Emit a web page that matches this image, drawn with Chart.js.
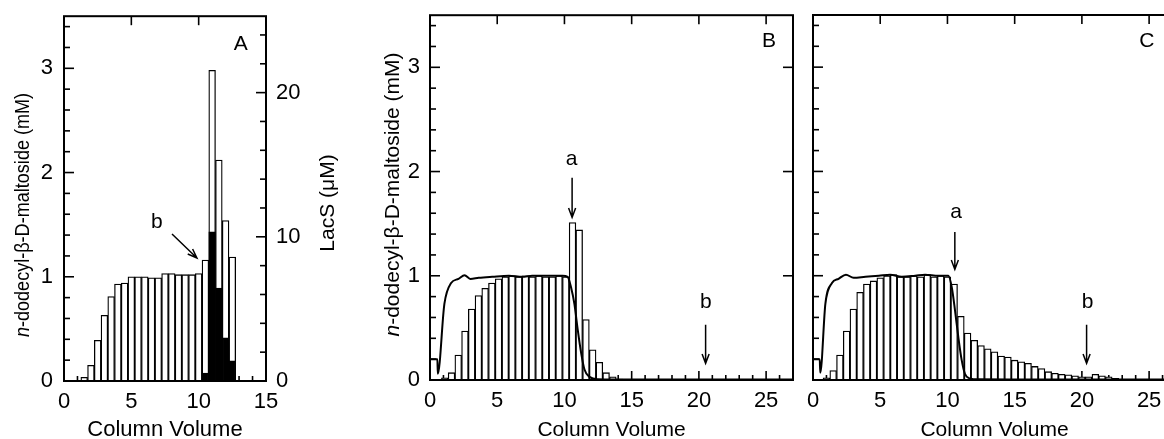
<!DOCTYPE html>
<html>
<head>
<meta charset="utf-8">
<script src="https://cdn.jsdelivr.net/npm/chart.js@4"></script>
<style>
  html, body { margin: 0; padding: 0; background: #fff; overflow: hidden; width: 1164px; height: 439px; }
  canvas { position: absolute; top: 0; }
  #chartA { left: 0; }
  #chartB { left: 360px; }
  #chartC { left: 800px; }
</style>
</head>
<body>
<canvas id="chartA" width="360" height="439"></canvas>
<canvas id="chartB" width="440" height="439"></canvas>
<canvas id="chartC" width="390" height="439"></canvas>
<script>
// ---- panel A: detergent (mM, white bars) and LacS (uM, black bars)
const aVolume = [1.5, 2, 2.5, 3, 3.5, 4, 4.5, 5, 5.5, 6, 6.5, 7, 7.5, 8, 8.5, 9, 9.5, 10, 10.5, 11, 11.5, 12, 12.5];
const aDetergent = [0.035, 0.15, 0.39, 0.63, 0.81, 0.93, 0.94, 1.0, 1.0, 1.0, 0.99, 0.99, 1.03, 1.03, 1.02, 1.02, 1.02, 1.03, 1.16, 2.98, 2.12, 1.54, 1.19];
const aLacSVolume = [10.5, 11, 11.5, 12, 12.5];
const aLacS = [0.55, 10.35, 6.45, 3.0, 1.4];

// ---- panel B
const bVolume = [1.1, 1.6, 2.1, 2.6, 3.1, 3.6, 4.1, 4.6, 5.1, 5.6, 6.1, 6.6, 7.1, 7.6, 8.1, 8.6, 9.1, 9.6, 10.1, 10.6, 11.1, 11.6, 12.1, 12.6, 13.1, 13.6, 14.1];
const bDetergent = [0.02, 0.07, 0.24, 0.47, 0.68, 0.81, 0.88, 0.93, 0.97, 0.99, 1.0, 0.99, 1.0, 0.99, 1.0, 0.99, 0.99, 1.0, 0.99, 1.51, 1.44, 0.58, 0.29, 0.17, 0.07, 0.03, 0.01];
const bTraceVolume = [0, 0.55, 0.58, 1.07, 1.57, 2.12, 2.57, 3.0, 3.62, 4.62, 5.87, 6.87, 7.6, 8.86, 9.86, 10.24, 10.49, 10.74, 10.99, 11.24, 11.49, 11.86, 12.5, 15, 20, 27];
const bTrace = [0.2, 0.2, 0.06, 0.73, 0.93, 0.97, 1.005, 0.97, 0.98, 0.99, 1.0, 0.99, 1.0, 1.0, 1.0, 0.99, 0.89, 0.73, 0.48, 0.26, 0.10, 0.03, 0.008, 0.005, 0.005, 0.005];

// ---- panel C
const cVolume = [1, 1.5, 2, 2.5, 3, 3.5, 4, 4.5, 5, 5.5, 6, 6.5, 7, 7.5, 8, 8.5, 9, 9.5, 10, 10.5, 11, 11.5, 12, 12.5, 13, 13.5, 14, 14.5, 15, 15.5, 16, 16.5, 17, 17.5, 18, 18.5, 19, 19.5, 20, 20.5, 21, 21.5, 22, 22.5];
const cDetergent = [0.02, 0.09, 0.24, 0.47, 0.68, 0.84, 0.92, 0.95, 0.98, 1.0, 1.01, 0.99, 0.99, 1.0, 0.99, 1.01, 0.99, 1.0, 0.99, 0.92, 0.61, 0.45, 0.38, 0.33, 0.30, 0.27, 0.23, 0.22, 0.19, 0.175, 0.16, 0.13, 0.11, 0.08, 0.065, 0.055, 0.05, 0.04, 0.03, 0.03, 0.055, 0.04, 0.03, 0.015];
const cTraceVolume = [0, 0.5, 0.54, 0.92, 1.41, 1.9, 2.45, 3.02, 3.9, 4.9, 5.74, 6.6, 7.6, 8.34, 9.33, 10.07, 10.32, 10.56, 10.81, 11.06, 11.3, 11.66, 12.3, 15, 20, 27];
const cTrace = [0.2, 0.2, 0.07, 0.73, 0.93, 0.97, 1.01, 0.98, 0.99, 1.0, 1.01, 0.99, 1.0, 1.01, 1.0, 1.0, 0.89, 0.67, 0.41, 0.19, 0.06, 0.016, 0.006, 0.005, 0.005, 0.005];

// ---- ticks and texts
const xTicksA = [0, 5, 10, 15];
const xTicksBC = [0, 5, 10, 15, 20, 25];
const yTicks = [0, 1, 2, 3];
const y2TicksA = [0, 10, 20];
const xTitle = 'Column Volume';
const yTitle = [['n', 'italic'], ['-dodecyl-β-D-maltoside (mM)', 'normal']];
const y2Title = [['LacS (μM)', 'normal']];

const FONT = '"Liberation Sans", Arial, Helvetica, sans-serif';

function pts(xs, ys) { return xs.map((x, i) => ({ x: x, y: ys[i] })); }
function steps(from, to, step, skip) {
  const out = [];
  for (let v = from; v <= to + 1e-9; v += step) {
    const r = Math.round(v * 100) / 100;
    if (!skip || Math.abs(r / skip - Math.round(r / skip)) > 1e-6) out.push(r);
  }
  return out;
}

function drawVertical(ctx, parts, cx, cy, size, squeeze) {
  ctx.save();
  ctx.translate(cx, cy);
  ctx.rotate(-Math.PI / 2);
  ctx.scale(squeeze || 1, 1);
  ctx.fillStyle = '#000';
  ctx.textBaseline = 'middle';
  ctx.textAlign = 'left';
  const widths = parts.map(p => { ctx.font = p[1] + ' ' + size + 'px ' + FONT; return ctx.measureText(p[0]).width; });
  let x = -widths.reduce((s, w) => s + w, 0) / 2;
  parts.forEach((p, i) => { ctx.font = p[1] + ' ' + size + 'px ' + FONT; ctx.fillText(p[0], x, 0); x += widths[i]; });
  ctx.restore();
}

function arrow(ctx, x1, y1, x2, y2) {
  const ang = Math.atan2(y2 - y1, x2 - x1), h = 10, w = 0.36;
  ctx.beginPath();
  ctx.moveTo(x1, y1); ctx.lineTo(x2, y2);
  ctx.moveTo(x2 - h * Math.cos(ang - w), y2 - h * Math.sin(ang - w));
  ctx.lineTo(x2, y2);
  ctx.lineTo(x2 - h * Math.cos(ang + w), y2 - h * Math.sin(ang + w));
  ctx.stroke();
}

// inward tick marks, box frame, panel letters, arrows and y titles
const frame = {
  id: 'frame',
  beforeDatasetsDraw(chart, args, o) {
    const ctx = chart.ctx, a = chart.chartArea;
    ctx.save();
    ctx.strokeStyle = '#000';
    ctx.lineWidth = 1.6;
    (o.marks || []).forEach(m => {
      const s = chart.scales[m.scale || (m.side === 'top' || m.side === 'bottom' ? 'x' : 'y')];
      m.values.forEach(v => {
        const p = s.getPixelForValue(v);
        ctx.beginPath();
        if (m.side === 'bottom') { ctx.moveTo(p, a.bottom); ctx.lineTo(p, a.bottom - m.len); }
        if (m.side === 'top') { ctx.moveTo(p, a.top); ctx.lineTo(p, a.top + m.len); }
        if (m.side === 'left') { ctx.moveTo(a.left, p); ctx.lineTo(a.left + m.len, p); }
        if (m.side === 'right') { ctx.moveTo(a.right, p); ctx.lineTo(a.right - m.len, p); }
        ctx.stroke();
      });
    });
    ctx.restore();
  },
  afterDatasetsDraw(chart, args, o) {
    const ctx = chart.ctx, a = chart.chartArea;
    const x = chart.scales.x, y = chart.scales.y;
    ctx.save();
    ctx.strokeStyle = '#000';
    ctx.lineWidth = 2;
    ctx.strokeRect(a.left, a.top, a.right - a.left, a.bottom - a.top);
    ctx.fillStyle = '#000';
    ctx.textAlign = 'center';
    ctx.textBaseline = 'middle';
    (o.letters || []).forEach(l => {
      ctx.font = l.size + 'px ' + FONT;
      ctx.fillText(l.t, x.getPixelForValue(l.x), y.getPixelForValue(l.y));
    });
    ctx.lineWidth = 1.5;
    (o.arrows || []).forEach(r => {
      arrow(ctx, x.getPixelForValue(r[0]), y.getPixelForValue(r[1]), x.getPixelForValue(r[2]), y.getPixelForValue(r[3]));
    });
    ctx.restore();
    (o.titles || []).forEach(t => drawVertical(ctx, t.parts, t.cx, t.cy, t.size, t.squeeze));
  }
};

const tickFont = { family: FONT, size: 22 };
function xScale(max, ticks, h, titleSize) {
  return {
    type: 'linear', min: 0, max: max, offset: false,
    grid: { display: false }, border: { display: false },
    afterBuildTicks: s => { s.ticks = ticks.map(v => ({ value: v })); },
    afterFit: s => { s.height = h; },
    ticks: { font: tickFont, color: '#000', padding: 0, maxRotation: 0, autoSkip: false },
    title: { display: true, text: xTitle, color: '#000', padding: 0, font: { family: FONT, size: titleSize, lineHeight: 0.8 } }
  };
}
function yScale(max, ticks, w, pad, pos, show) {
  return {
    type: 'linear', position: pos || 'left', min: 0, max: max,
    grid: { display: false }, border: { display: false },
    afterBuildTicks: s => { s.ticks = ticks.map(v => ({ value: v })); },
    afterFit: s => { s.width = w; },
    ticks: { display: show !== false, font: tickFont, color: '#000', padding: pad, autoSkip: false }
  };
}
function bars(data, fill, axis, order) {
  return { type: 'bar', data: data, yAxisID: axis || 'y', backgroundColor: fill, borderColor: '#000',
    borderWidth: 1.3, barPercentage: 1, categoryPercentage: 1, grouped: false, order: order };
}
function trace(data) {
  return { type: 'line', data: data, borderColor: '#000', borderWidth: 2, pointRadius: 0,
    cubicInterpolationMode: 'monotone', fill: false, order: 0 };
}
function panel(id, datasets, scales, padding, frameOpts) {
  return new Chart(document.getElementById(id), {
    type: 'bar',
    data: { datasets: datasets },
    options: {
      responsive: false, animation: false, events: [],
      layout: { padding: padding },
      plugins: { legend: { display: false }, tooltip: { enabled: false }, frame: frameOpts },
      scales: scales
    },
    plugins: [frame]
  });
}

const yMinor = steps(0.2, 3.4, 0.2, 1);
const xMinorBC = steps(1, 26, 1, 5);

panel('chartA',
  [bars(pts(aLacSVolume, aLacS), '#000', 'y2', 1), bars(pts(aVolume, aDetergent), '#fff', 'y', 2)],
  { x: xScale(15, xTicksA, 58, 22), y: yScale(3.5, yTicks, 64, 3), y2: yScale(25.3, y2TicksA, 94, 2, 'right') },
  { top: 15, left: 0, right: 0, bottom: 0 },
  {
    marks: [
      { side: 'bottom', values: [5, 10], len: 9 }, { side: 'bottom', values: steps(1, 14, 1, 5), len: 5 },
      { side: 'top', values: [5, 10], len: 9 },
      { side: 'left', values: [1, 2, 3], len: 10 }, { side: 'left', values: yMinor, len: 6 },
      { side: 'right', scale: 'y2', values: [10, 20], len: 10 }, { side: 'right', scale: 'y2', values: steps(2, 24, 2, 10), len: 6 }
    ],
    letters: [{ t: 'A', x: 13.13, y: 3.23, size: 21 }, { t: 'b', x: 6.9, y: 1.52, size: 21 }],
    arrows: [[8.02, 1.41, 9.87, 1.18]],
    titles: [{ parts: yTitle, cx: 23, cy: 215, size: 21, squeeze: 0.86 }, { parts: y2Title, cx: 328, cy: 203, size: 21 }]
  });

panel('chartB',
  [trace(pts(bTraceVolume, bTrace)), bars(pts(bVolume, bDetergent), '#fff', 'y', 1)],
  { x: xScale(27, xTicksBC, 59, 21), y: yScale(3.5, yTicks, 70, 2) },
  { top: 15, left: 0, right: 7, bottom: 0 },
  {
    marks: [
      { side: 'bottom', values: [5, 10, 15, 20, 25], len: 9 }, { side: 'bottom', values: xMinorBC, len: 5 },
      { side: 'top', values: [5, 10, 15, 20, 25], len: 9 },
      { side: 'left', values: [1, 2, 3], len: 10 }, { side: 'left', values: yMinor, len: 6 },
      { side: 'right', values: [1, 2, 3], len: 10 }
    ],
    letters: [{ t: 'B', x: 25.22, y: 3.25, size: 21 }, { t: 'a', x: 10.54, y: 2.12, size: 21 }, { t: 'b', x: 20.51, y: 0.75, size: 21 }],
    arrows: [[10.57, 1.94, 10.57, 1.56], [20.5, 0.53, 20.5, 0.16]],
    titles: [{ parts: yTitle, cx: 33, cy: 194.5, size: 21 }]
  });

panel('chartC',
  [trace(pts(cTraceVolume, cTrace)), bars(pts(cVolume, cDetergent), '#fff', 'y', 1)],
  { x: xScale(27, xTicksBC, 59, 21), y: yScale(3.5, yTicks, 13, 6, 'left', false) },
  { top: 15, left: 0, right: 14, bottom: 0 },
  {
    marks: [
      { side: 'bottom', values: [5, 10, 15, 20, 25], len: 9 }, { side: 'bottom', values: xMinorBC, len: 5 },
      { side: 'top', values: [5, 10, 15, 20, 25], len: 9 },
      { side: 'left', values: [1, 2, 3], len: 10 }, { side: 'left', values: yMinor, len: 6 }
    ],
    letters: [{ t: 'C', x: 24.83, y: 3.25, size: 21 }, { t: 'a', x: 10.64, y: 1.61, size: 21 }, { t: 'b', x: 20.42, y: 0.75, size: 21 }],
    arrows: [[10.55, 1.42, 10.55, 1.06], [20.35, 0.53, 20.35, 0.16]]
  });
</script>
</body>
</html>
